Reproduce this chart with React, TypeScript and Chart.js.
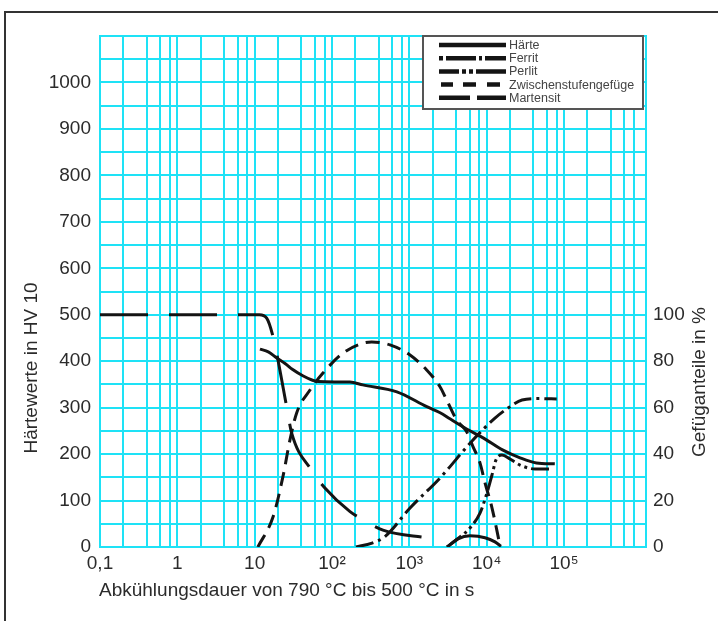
import React, { useEffect, useRef } from 'react';
import { Chart, registerables } from 'chart.js';

Chart.register(...registerables);

// ---------- data ----------
const seriesLabels = ['Härte', 'Ferrit', 'Perlit', 'Zwischenstufengefüge', 'Martensit'];

// Härte (HV 10) over cooling time (s)
const haerteTime = [11.7, 15.0, 19.3, 24.7, 31, 42.5, 55, 66, 170, 250, 690, 1680, 2500, 3350, 5500, 9000, 16000, 27000, 44000, 76000];
const haerteHV = [426, 420, 407, 395, 382, 368, 359.5, 356, 355, 349, 334, 302, 289, 276, 254, 235, 209, 192, 181, 179];

// Ferrit (%)
const ferritTime = [204, 329, 484, 1020, 2490, 6650, 12800, 20000, 28600, 48900, 80400];
const ferritPct = [0, 1.7, 4.5, 16.8, 29.7, 46.1, 55.5, 60.4, 63.3, 63.9, 63.7];

// Perlit (%)
const perlitTime = [3070, 4520, 6080, 8190, 10090, 11710, 13190, 15770, 20000, 26950, 42100, 72000];
const perlitPct = [0, 4.3, 8.2, 14.6, 23.3, 31, 37.5, 39.6, 37.9, 35.3, 33.6, 33.6];

// Zwischenstufengefüge (%)
const zwischenTime = [11.0, 17.3, 23.2, 28.6, 34.9, 51.9, 76.4, 139, 252, 326, 562, 1020, 1675, 2490, 3040, 4090, 5510, 6650, 8190, 9510, 11600, 15000];
const zwischenPct = [0, 13, 30.3, 46.1, 57.7, 67.6, 74.9, 83.5, 87.8, 88.3, 87, 82.7, 76.2, 69, 63.3, 54.7, 49.6, 43.2, 36.2, 27.6, 17.4, 0];

// Martensit (%)
const martensitTime = [0.1, 11.5, 14.3, 17.3, 20, 25.9, 30.1, 54.6, 81, 171, 230, 456, 1740];
const martensitPct = [100, 100, 98.5, 90.5, 80.5, 60.4, 49, 33, 25.4, 15.2, 12.5, 7.3, 3.9];
// small second Martensit portion
const martensit2Time = [3070, 4255, 6080, 9510, 12800, 15300];
const martensit2Pct = [0, 3.5, 4.8, 4.0, 2.2, 0.3];

// axes
const xGridValues = [0.1, 0.2, 0.4, 0.6, 0.8, 1, 2, 4, 6, 8, 10, 20, 40, 60, 80, 100, 200, 400, 600, 800,
  1000, 2000, 4000, 6000, 8000, 10000, 20000, 40000, 60000, 80000, 100000, 200000, 400000, 600000, 800000];
const xMajorValues = [0.1, 1, 10, 100, 1000, 10000, 100000];
const xMajorLabels = ['0,1', '1', '10', '10²', '10³', '10⁴', '10⁵'];
const yLeftLabels = [0, 100, 200, 300, 400, 500, 600, 700, 800, 900, 1000];
const yRightLabels = [0, 20, 40, 60, 80, 100];

const xTitle = 'Abkühlungsdauer von 790 °C bis 500 °C in s';
const yLeftTitle = 'Härtewerte in HV 10';
const yRightTitle = 'Gefüganteile in %';

// ---------- styles ----------
const CYAN = 'rgb(30, 226, 246)';
const INK = '#141414';
const TEXT = '#2b2b2b';
const FONT_FAMILY = "'Liberation Sans', Arial, Helvetica, sans-serif";

const dashes: Record<string, number[]> = {
  'Härte': [],
  'Ferrit': [18, 5, 3, 5],
  'Perlit': [18, 4, 3, 4, 3, 4],
  'Zwischenstufengefüge': [14, 8],
  'Martensit': [48, 21],
};
const legendDashes: Record<string, number[]> = {
  'Härte': [],
  'Ferrit': [4, 3, 30, 3, 3, 3, 60],
  'Perlit': [20, 3, 4, 3, 4, 3, 60],
  'Zwischenstufengefüge': [0, 2, 12, 10, 13, 11, 13, 20],
  'Martensit': [31, 7, 60],
};

const pts = (xs: number[], ys: number[]) => xs.map((x, i) => ({ x, y: ys[i] }));

const near = (a: number, b: number) => Math.abs(a - b) / b < 1e-6;

const decorPlugin = {
  id: 'decor',
  beforeDraw(chart: any) {
    const ctx = chart.ctx;
    ctx.save();
    ctx.fillStyle = '#ffffff';
    ctx.fillRect(0, 0, chart.width, chart.height);
    ctx.restore();
  },
  afterDraw(chart: any) {
    const ctx = chart.ctx;
    ctx.save();
    // outer frame
    ctx.strokeStyle = '#333';
    ctx.lineWidth = 2;
    ctx.strokeRect(5, 12, 800, 700);

    // axis titles
    ctx.fillStyle = TEXT;
    ctx.font = `19px ${FONT_FAMILY}`;
    ctx.textBaseline = 'middle';
    ctx.textAlign = 'left';
    ctx.fillText(xTitle, 99, 591);

    ctx.save();
    ctx.translate(32, 368);
    ctx.rotate(-Math.PI / 2);
    ctx.textAlign = 'center';
    ctx.fillText(yLeftTitle, 0, 0);
    ctx.restore();

    ctx.save();
    ctx.translate(700, 382);
    ctx.rotate(-Math.PI / 2);
    ctx.textAlign = 'center';
    ctx.fillText(yRightTitle, 0, 0);
    ctx.restore();

    // legend
    const bx = 423, by = 36, bw = 220, bh = 73;
    ctx.fillStyle = '#ffffff';
    ctx.fillRect(bx, by, bw, bh);
    ctx.strokeStyle = '#555';
    ctx.lineWidth = 2;
    ctx.strokeRect(bx, by, bw, bh);
    seriesLabels.forEach((lab, i) => {
      const y = 45 + i * 13.2;
      ctx.beginPath();
      ctx.setLineDash(legendDashes[lab]);
      ctx.lineDashOffset = 0;
      ctx.lineCap = 'butt';
      ctx.strokeStyle = INK;
      ctx.lineWidth = 4.5;
      ctx.moveTo(439, y);
      ctx.lineTo(506, y);
      ctx.stroke();
      ctx.setLineDash([]);
      ctx.fillStyle = '#444';
      ctx.font = `12.5px ${FONT_FAMILY}`;
      ctx.textAlign = 'left';
      ctx.textBaseline = 'middle';
      ctx.fillText(lab, 509, y + 0.5);
    });
    ctx.restore();
  },
};

function lineDs(label: string, data: any[], axis: string, dash: number[]) {
  return {
    label,
    data,
    yAxisID: axis,
    borderColor: INK,
    borderWidth: 3,
    borderDash: dash,
    borderCapStyle: 'butt',
    borderJoinStyle: 'round',
    pointRadius: 0,
    pointHoverRadius: 0,
    fill: false,
    cubicInterpolationMode: 'monotone',
    spanGaps: false,
  };
}

export default function App() {
  const ref = useRef<HTMLCanvasElement>(null);

  useEffect(() => {
    if (!ref.current) return;
    const tickFont = { family: FONT_FAMILY, size: 19 };
    const chart = new Chart(ref.current, {
      type: 'line',
      data: {
        datasets: [
          lineDs(seriesLabels[0], pts(haerteTime, haerteHV), 'y', dashes['Härte']),
          lineDs(seriesLabels[1], pts(ferritTime, ferritPct), 'y2', dashes['Ferrit']),
          lineDs(seriesLabels[2], pts(perlitTime, perlitPct), 'y2', dashes['Perlit']),
          lineDs(seriesLabels[3], pts(zwischenTime, zwischenPct), 'y2', dashes['Zwischenstufengefüge']),
          lineDs(seriesLabels[4], pts(martensitTime, martensitPct), 'y2', dashes['Martensit']),
          lineDs(seriesLabels[4], pts(martensit2Time, martensit2Pct), 'y2', []),
        ] as any,
      },
      options: {
        responsive: false,
        devicePixelRatio: 1,
        animation: false,
        events: [],
        layout: { padding: { top: 36, left: 0, right: 0, bottom: 0 } },
        plugins: { legend: { display: false }, tooltip: { enabled: false } },
        scales: {
          x: {
            type: 'logarithmic',
            min: 0.1,
            max: 1.148e6,
            afterBuildTicks: (s: any) => {
              s.ticks = xGridValues.map((v) => ({ value: v }));
            },
            afterFit: (s: any) => {
              s.height = 74;
            },
            ticks: {
              autoSkip: false,
              maxRotation: 0,
              minRotation: 0,
              padding: 5,
              color: TEXT,
              font: tickFont,
              callback: (v: any) => {
                const i = xMajorValues.findIndex((m) => near(Number(v), m));
                return i >= 0 ? xMajorLabels[i] : '';
              },
            },
            grid: { color: CYAN, lineWidth: 2, drawTicks: false },
            border: { display: true, color: CYAN, width: 2 },
          },
          y: {
            type: 'linear',
            position: 'left',
            min: 0,
            max: 1100,
            afterFit: (s: any) => {
              s.width = 100;
            },
            ticks: {
              stepSize: 50,
              autoSkip: false,
              padding: 9,
              color: TEXT,
              font: tickFont,
              callback: (v: any) => (yLeftLabels.includes(Number(v)) ? String(v) : ''),
            },
            grid: { color: CYAN, lineWidth: 2, drawTicks: false },
            border: { display: true, color: CYAN, width: 2 },
          },
          y2: {
            type: 'linear',
            position: 'right',
            min: 0,
            max: 220,
            afterFit: (s: any) => {
              s.width = 72;
            },
            ticks: {
              stepSize: 20,
              autoSkip: false,
              padding: 7,
              color: TEXT,
              font: tickFont,
              callback: (v: any) => (yRightLabels.includes(Number(v)) ? String(v) : ''),
            },
            grid: { display: false, drawTicks: false },
            border: { display: true, color: CYAN, width: 2 },
          },
        },
      } as any,
      plugins: [decorPlugin],
    });
    return () => chart.destroy();
  }, []);

  return (
    <div style={{ position: 'absolute', left: 0, top: 0, width: 718, height: 621 }}>
      <canvas ref={ref} width={718} height={621} style={{ display: 'block', width: 718, height: 621 }} />
    </div>
  );
}
